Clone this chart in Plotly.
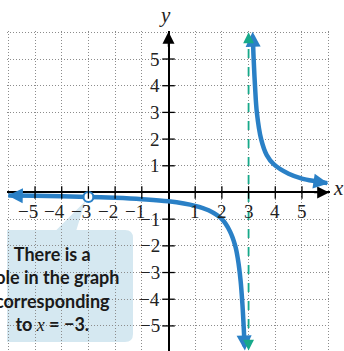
import plotly.graph_objects as go

# ---- data ----
x_ticks = [-5, -4, -3, -2, -1, 1, 2, 3, 4, 5]
y_ticks = [-5, -4, -3, -2, -1, 1, 2, 3, 4, 5]
tick_labels = {-5: "−5", -4: "−4", -3: "−3", -2: "−2", -1: "−1",
               1: "1", 2: "2", 3: "3", 4: "4", 5: "5"}

left_x = [-6.0, -5, -4, -3, -2, -1, 0, 1, 1.5, 2, 2.3, 2.5, 2.6, 2.7, 2.77, 2.82, 2.85]
left_y = [-0.11, -0.125, -0.14, -0.17, -0.2, -0.25, -0.33, -0.5, -0.67, -1.0, -1.45, -2.0, -2.5, -3.3, -4.2, -5.1, -5.75]
right_x = [3.16, 3.19, 3.24, 3.31, 3.47, 3.68, 3.95, 4.5, 5.0, 5.5, 5.95]
right_y = [5.85, 5.0, 4.0, 3.0, 2.0, 1.4, 1.05, 0.7, 0.52, 0.42, 0.35]
hole_x = [-3]
hole_y = [-0.17]
asymptote_x = 3

callout_text = ("There is a<br>hole in the graph<br>corresponding<br>"
                "to <i style='font-family:Liberation Serif;font-weight:normal'>x</i> = −3.")

BLUE = "#2a80c6"
TEAL = "#17a98a"
BOX = "#d5e8f1"

XR = [-6.05, 6.05]
YR = [-5.94, 6.05]

fig = go.Figure()

# callout box (rounded rect + pointer), drawn under everything
r = 0.3
bx0, bx1, by0, by1 = -7.5, -1.33, -5.6, -1.41
path = (f"M {bx0},{by1} L -4.2,{by1} L -3.12,-0.33 L -3.45,{by1} L {bx1 - r},{by1} "
        f"Q {bx1},{by1} {bx1},{by1 - r} L {bx1},{by0 + r} Q {bx1},{by0} {bx1 - r},{by0} "
        f"L {bx0},{by0} Z")
fig.add_shape(type="path", path=path, fillcolor=BOX, line=dict(width=0), layer="below")

# asymptote
fig.add_trace(go.Scatter(x=[asymptote_x, asymptote_x], y=[-5.75, 5.85], mode="lines",
                         line=dict(color=TEAL, width=1.8, dash="dash"), hoverinfo="skip"))

# curve branches
for xs, ys in ((left_x, left_y), (right_x, right_y)):
    fig.add_trace(go.Scatter(x=xs, y=ys, mode="lines", line=dict(color=BLUE, width=4.5, shape="spline"),
                             hoverinfo="skip"))

# hole
fig.add_trace(go.Scatter(x=hole_x, y=hole_y, mode="markers",
                         marker=dict(symbol="circle", size=10, color="white",
                                     line=dict(color=BLUE, width=2.2)), hoverinfo="skip"))

# tick marks on the axes
fig.add_trace(go.Scatter(x=x_ticks, y=[0] * len(x_ticks), mode="markers",
                         marker=dict(symbol="line-ns", size=9, line=dict(color="black", width=1.3)),
                         hoverinfo="skip"))
fig.add_trace(go.Scatter(x=[0] * len(y_ticks), y=y_ticks, mode="markers",
                         marker=dict(symbol="line-ew", size=9, line=dict(color="black", width=1.3)),
                         hoverinfo="skip"))

ann = []
lab_font = dict(family="Liberation Serif, DejaVu Serif, serif", size=19, color="#222")
for k in x_ticks:
    if k < 0:
        ann.append(dict(x=k, y=0, text=tick_labels[k], showarrow=False, xanchor="right", yanchor="middle",
                        xshift=5, yshift=-19, font=lab_font))
    else:
        ann.append(dict(x=k, y=0, text=tick_labels[k], showarrow=False, xanchor="center", yanchor="middle",
                        yshift=-19, font=lab_font))
for k in y_ticks:
    ann.append(dict(x=0, y=k, text=tick_labels[k], showarrow=False, xanchor="right", yanchor="middle",
                    xshift=-7, font=lab_font))

ax_font = dict(family="Liberation Serif, DejaVu Serif, serif", size=21, color="#222")
ann.append(dict(x=0.49, y=1.05, xref="paper", yref="paper", text="<i>y</i>", showarrow=False,
                xanchor="center", yanchor="middle", font=ax_font))
ann.append(dict(x=1.027, y=0.51, xref="paper", yref="paper", text="<i>x</i>", showarrow=False,
                xanchor="center", yanchor="middle", font=ax_font))

def arrow(tip, tail, color, width, size):
    return dict(x=tip[0], y=tip[1], ax=tail[0], ay=tail[1], axref="x", ayref="y", xref="x", yref="y",
                text="", showarrow=True, arrowhead=2, arrowcolor=color, arrowwidth=width,
                arrowsize=size)

# axis arrows
ann.append(arrow((6.02, 0), (5.4, 0), "black", 1.5, 1.6))
ann.append(arrow((0, 6.02), (0, 5.4), "black", 1.5, 1.6))
# curve arrows
ann.append(arrow((-6.02, -0.11), (-5.6, -0.12), BLUE, 4, 0.75))
ann.append(arrow((2.86, -5.92), (2.84, -5.5), BLUE, 4, 0.75))
ann.append(arrow((3.15, 6.02), (3.165, 5.6), BLUE, 4, 0.75))
ann.append(arrow((5.99, 0.34), (5.6, 0.4), BLUE, 4, 0.75))
# asymptote arrows
ann.append(arrow((3, 6.0), (3, 5.7), TEAL, 1.8, 1.2))
ann.append(arrow((3, -5.92), (3, -5.6), TEAL, 1.8, 1.2))

ann.append(dict(x=-4.35, y=-3.63, text=callout_text, showarrow=False, xanchor="center", yanchor="middle",
                align="center",
                font=dict(family="Lato", size=18, color="#1a1a1a", weight="bold")))

axis_common = dict(showgrid=True, gridcolor="#8c8c8c", griddash="1px,2px", gridwidth=1, dtick=1, tick0=0,
                   showticklabels=False, ticks="", zeroline=True, zerolinecolor="black",
                   zerolinewidth=1.5, showline=False, fixedrange=True)

fig.update_layout(
    width=344, height=351,
    margin=dict(l=7, r=14, t=31, b=0),
    paper_bgcolor="white", plot_bgcolor="white",
    showlegend=False,
    xaxis=dict(range=XR, **axis_common),
    yaxis=dict(range=YR, **axis_common),
    annotations=ann,
)

fig.write_html("out.html", config={"displayModeBar": False},
               post_script="document.body.style.margin='0';document.body.style.overflow='hidden';")
